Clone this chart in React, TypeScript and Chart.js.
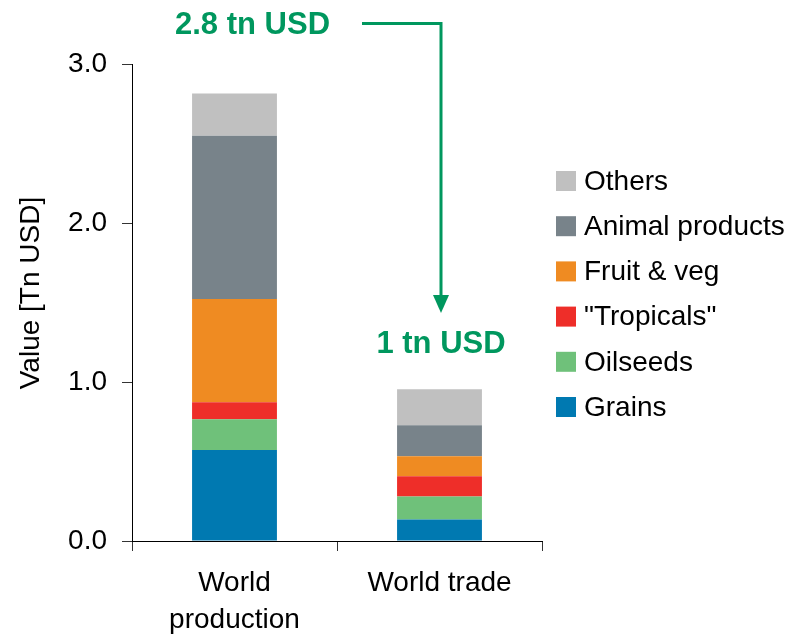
import React, { useEffect, useRef } from "react";
import { Chart, registerables } from "chart.js";

Chart.register(...registerables);

// ---- Data ----
const categories: (string | string[])[] = [["World", "production"], "World trade"];
const seriesNames = ["Grains", "Oilseeds", "\"Tropicals\"", "Fruit & veg", "Animal products", "Others"];
const grains = [0.572, 0.136];
const oilseeds = [0.194, 0.144];
const tropicals = [0.107, 0.127];
const fruitVeg = [0.649, 0.126];
const animalProducts = [1.027, 0.195];
const others = [0.265, 0.227];
const seriesColors = ["#0079B1", "#6FC17A", "#EE2E29", "#EF8B22", "#78838A", "#C0C0C0"];
const yTickValues = [0, 1, 2, 3];
const annotationTop = "2.8 tn USD";
const annotationBottom = "1 tn USD";
const yAxisTitle = "Value [Tn USD]";

const FONT = "'Liberation Sans', Arial, Helvetica, sans-serif";
const GREEN = "#00975E";

const overlayPlugin = {
  id: "overlay",
  afterDraw(chart: any) {
    const ctx = chart.ctx as CanvasRenderingContext2D;
    const ds = chart.data.datasets;
    ctx.save();
    // legend (reverse order, custom placement)
    ctx.font = `28px ${FONT}`;
    ctx.textAlign = "left";
    ctx.textBaseline = "middle";
    const n = ds.length;
    for (let i = 0; i < n; i++) {
      const d = ds[n - 1 - i];
      const cy = 181 + i * 45.2;
      ctx.fillStyle = d.backgroundColor;
      ctx.fillRect(556, cy - 10, 20, 20);
      ctx.fillStyle = "#000";
      ctx.fillText(d.label, 584, cy + 1);
    }
    // y-axis title
    ctx.save();
    ctx.translate(31, 293);
    ctx.rotate(-Math.PI / 2);
    ctx.textAlign = "center";
    ctx.textBaseline = "middle";
    ctx.fillStyle = "#000";
    ctx.font = `28px ${FONT}`;
    ctx.fillText(yAxisTitle, 0, 0);
    ctx.restore();

    // annotations
    const arrowX = 441;
    ctx.fillStyle = GREEN;
    ctx.strokeStyle = GREEN;
    ctx.font = `bold 31px ${FONT}`;
    ctx.textAlign = "left";
    ctx.textBaseline = "middle";
    ctx.fillText(annotationTop, 175, 25.5);
    ctx.lineWidth = 3;
    ctx.beginPath();
    ctx.moveTo(362, 23.5);
    ctx.lineTo(arrowX, 23.5);
    ctx.lineTo(arrowX, 297);
    ctx.stroke();
    ctx.beginPath();
    ctx.moveTo(arrowX - 8, 295);
    ctx.lineTo(arrowX + 8, 295);
    ctx.lineTo(arrowX, 313);
    ctx.closePath();
    ctx.fill();
    ctx.textAlign = "center";
    ctx.fillText(annotationBottom, arrowX, 344.5);
    ctx.restore();
  },
};

export default function App() {
  const ref = useRef<HTMLCanvasElement | null>(null);
  useEffect(() => {
    if (!ref.current) return;
    const seriesData = [grains, oilseeds, tropicals, fruitVeg, animalProducts, others];
    const chart = new Chart(ref.current, {
      type: "bar",
      data: {
        labels: categories as any,
        datasets: seriesNames.map((name, i) => ({
          label: name,
          data: seriesData[i],
          backgroundColor: seriesColors[i],
          borderWidth: 0,
          barPercentage: 0.414,
          categoryPercentage: 1,
        })),
      },
      options: {
        animation: false,
        responsive: false,
        devicePixelRatio: 1,
        layout: { padding: { top: 64, right: 248, bottom: 0, left: 0 } },
        plugins: { legend: { display: false }, tooltip: { enabled: false } },
        scales: {
          x: {
            stacked: true,
            afterFit: (s: any) => { s.height = 95; },
            grid: { display: true, drawOnChartArea: false, drawTicks: true, tickLength: 10, color: "#333", offset: true },
            border: { display: true, color: "#000", width: 1 },
            ticks: {
              color: "#000",
              font: { family: FONT, size: 28, lineHeight: 1.32 },
              padding: 14,
              maxRotation: 0,
              autoSkip: false,
            },
          },
          y: {
            stacked: true,
            min: yTickValues[0],
            max: yTickValues[yTickValues.length - 1],
            afterFit: (s: any) => { s.width = 132; },
            afterBuildTicks: (s: any) => { s.ticks = yTickValues.map((v) => ({ value: v })); },
            grid: { display: true, drawOnChartArea: false, drawTicks: true, tickLength: 10, color: "#333" },
            border: { display: true, color: "#000", width: 1 },
            ticks: {
              color: "#000",
              font: { family: FONT, size: 28 },
              padding: 15,
              callback: (v: any) => Number(v).toFixed(1),
            },
          },
        },
      },
      plugins: [overlayPlugin],
    });
    return () => chart.destroy();
  }, []);
  return (
    <div style={{ position: "absolute", left: 0, top: 0, width: 790, height: 636, background: "#fff" }}>
      <canvas ref={ref} width={790} height={636} style={{ width: 790, height: 636, display: "block" }} />
    </div>
  );
}
